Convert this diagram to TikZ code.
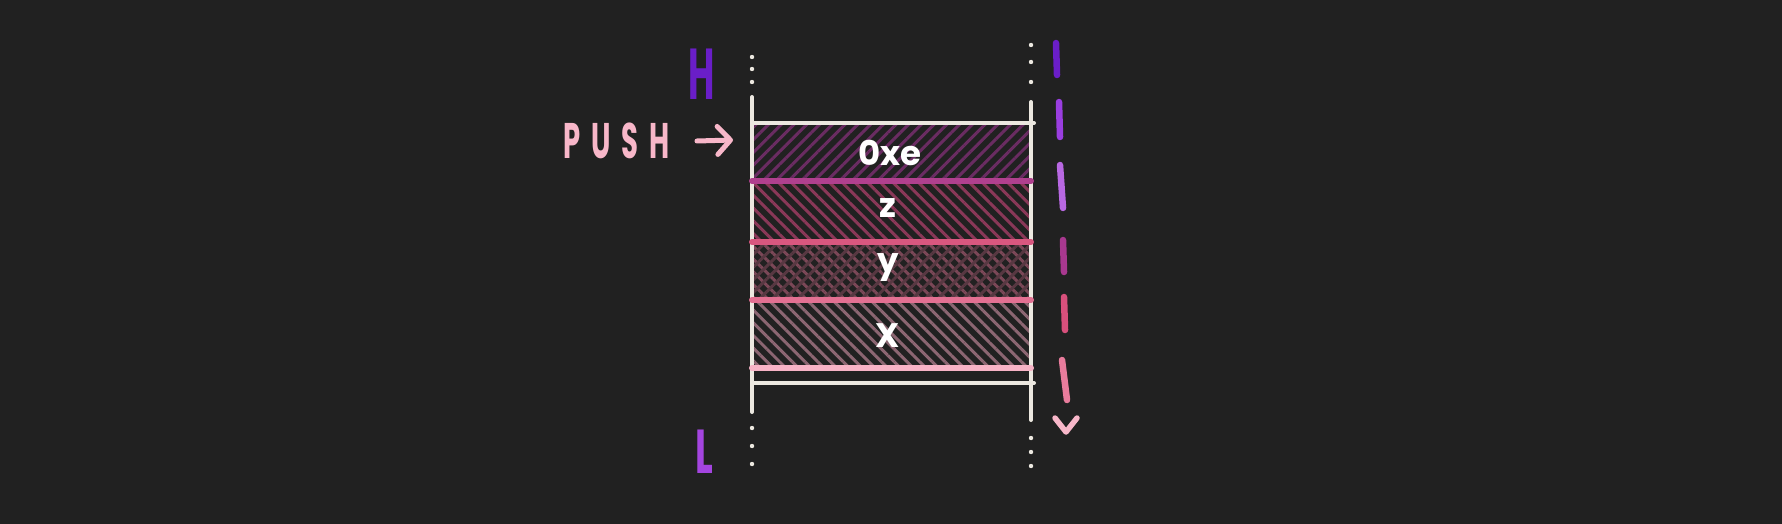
\documentclass[tikz,border=0pt]{standalone}
\usepackage{fontspec}
\usepackage{graphicx}
\setmainfont{Poppins}
\newfontfamily\pushfont[LetterSpace=40]{Poppins}
\usetikzlibrary{arrows.meta,patterns.meta}
\definecolor{board}{HTML}{212121}
\definecolor{chalkwhite}{HTML}{ECE8E0}
\definecolor{highpurple}{HTML}{6A1EC8}
\definecolor{lowpurple}{HTML}{A445E0}
\definecolor{pushpink}{HTML}{F8B7C9}
\definecolor{lineA}{HTML}{B0408E}
\definecolor{lineB}{HTML}{D9577F}
\definecolor{lineC}{HTML}{E37092}
\definecolor{lineD}{HTML}{F7B3C6}
\definecolor{hatchA}{HTML}{6A2C62}
\definecolor{hatchB}{HTML}{8A3858}
\definecolor{hatchC}{HTML}{7C4858}
\definecolor{hatchD}{HTML}{8C6672}
\definecolor{dashA}{HTML}{6A1EC8}
\definecolor{dashB}{HTML}{9A3EE0}
\definecolor{dashC}{HTML}{B868E2}
\definecolor{dashD}{HTML}{A8388F}
\definecolor{dashE}{HTML}{D8507C}
\definecolor{dashF}{HTML}{E87C9C}
\tikzset{
  chalk/.style={draw=chalkwhite, line width=4pt, line cap=round},
  divider/.style={line width=6pt, line cap=round},
  hatch/.style={pattern={Lines[angle=#1, distance=9pt, line width=3pt]}},
  value/.style={font=\bfseries\fontsize{34}{34}\selectfont, text=white},
  dashseg/.style={line width=6.5pt, line cap=round},
}
\begin{document}
\begin{tikzpicture}[x=1pt, y=-1pt]
    \fill[board] (0,0) rectangle (1782,524);
    \useasboundingbox (0,0) rectangle (1782,524);
    % hatched cells
    \fill[hatch=45, pattern color=hatchA] (753,125) rectangle (1030,181);
    \fill[hatch=-45, pattern color=hatchB] (753,181) rectangle (1030,242);
    \fill[hatch=-45, pattern color=hatchC] (753,242) rectangle (1030,300);
    \fill[hatch=45, pattern color=hatchC!60!board] (753,242) rectangle (1030,300);
    \fill[hatch=-45, pattern color=hatchD] (753,300) rectangle (1030,368);
    % frame
    \draw[chalk] (752,97) -- (752,412);
    \draw[chalk] (1031,102) -- (1031,420);
    \draw[chalk] (752,123) -- (1034,123);
    \draw[chalk] (752,383) -- (1034,383);
    \foreach \y/\c in {181/lineA, 242/lineB, 300/lineC, 368/lineD}
        \draw[divider, draw=\c] (752,\y) -- (1031,\y);
    \foreach \y in {57,69,82,428,446,464}
        \fill[chalkwhite] (752,\y) circle (2.2pt);
    \foreach \y in {45,62,82,438,452,466}
        \fill[chalkwhite] (1031,\y) circle (2.2pt);
    % values
    \node[value] (cellE) at (890,153) {0xe};
    \node[value] (cellZ) at (888,208) {z};
    \node[value] (cellY) at (888,268) {y};
    \node[value] (cellX) at (888,336) {X};
    % labels
    \node[font=\bfseries\fontsize{72}{72}\selectfont, text=highpurple] (high) at (702,74) {\scalebox{0.5}[1]{H}};
    \node[font=\bfseries\fontsize{62}{62}\selectfont, text=lowpurple] (low) at (704,452) {\scalebox{0.6}[1]{L}};
    \node[font=\pushfont\bfseries\fontsize{50}{50}\selectfont, text=pushpink, anchor=west, inner sep=0pt] (push) at (563,141) {\scalebox{0.55}[1]{PUSH}};
    \coordinate (entry) at (733,140);
    \draw[pushpink, line width=5pt, line cap=round, -{Straight Barb[length=13pt, width=28pt, round]}]
        ([xshift=27pt]push.east) -- (entry);
    % growth direction
    \foreach \xa/\ya/\xb/\yb/\c in {1056/43/1057/75/dashA, 1059/102/1060/137/dashB,
        1060/165/1063/208/dashC, 1063/240/1064/272/dashD, 1064/297/1065/330/dashE,
        1062/360/1067/400/dashF}
        \draw[dashseg, draw=\c] (\xa,\ya) -- (\xb,\yb);
    \draw[dashseg, draw=pushpink, line width=5.5pt, line join=round] (1055,418) -- (1066,432) -- (1077,418);
\end{tikzpicture}
\end{document}
